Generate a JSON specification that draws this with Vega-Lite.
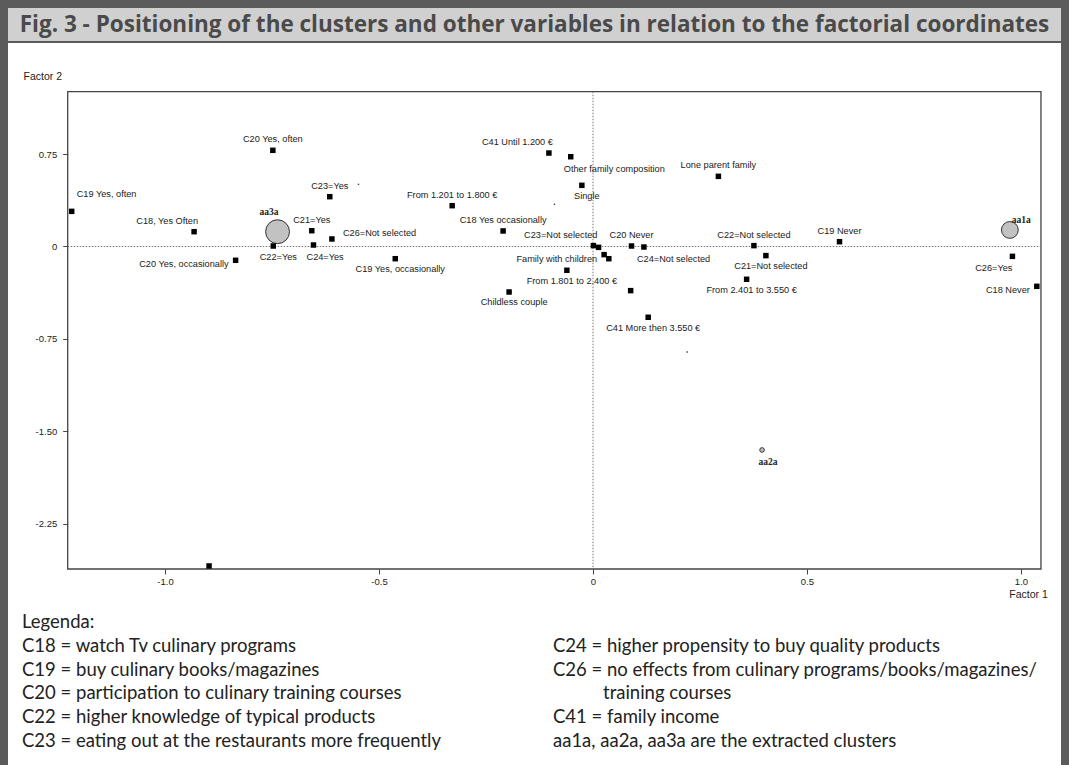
{
  "$schema": "https://vega.github.io/schema/vega-lite/v6.json",
  "background": "#5b5b5b",
  "padding": {"left": 8, "right": 8, "top": 8, "bottom": 0},
  "spacing": 2,
  "config": {"view": {"stroke": null}, "concat": {"spacing": 0}},
  "datasets": {
    "pts": [
      {"label": "C20 Yes, often", "x": -0.748, "y": 0.780, "pos": "above", "kind": "cat"},
      {"label": "C19 Yes, often", "x": -1.218, "y": 0.285, "pos": "aboveright", "kind": "cat"},
      {"label": "C18, Yes Often", "x": -0.932, "y": 0.120, "pos": "aboveleft", "kind": "cat"},
      {"label": "C20 Yes, occasionally", "x": -0.835, "y": -0.112, "pos": "left", "kind": "cat"},
      {"label": "C22=Yes", "x": -0.747, "y": 0.004, "pos": "below", "kind": "cat"},
      {"label": "C23=Yes", "x": -0.615, "y": 0.404, "pos": "above", "kind": "cat"},
      {"label": "C21=Yes", "x": -0.657, "y": 0.128, "pos": "above", "kind": "cat"},
      {"label": "C24=Yes", "x": -0.653, "y": 0.012, "pos": "belowright", "kind": "cat"},
      {"label": "C26=Not selected", "x": -0.610, "y": 0.061, "pos": "right", "kind": "cat"},
      {"label": "C19 Yes, occasionally", "x": -0.462, "y": -0.099, "pos": "below", "kind": "cat"},
      {"label": "From 1.201 to 1.800 €", "x": -0.329, "y": 0.331, "pos": "above", "kind": "cat"},
      {"label": "C18 Yes occasionally", "x": -0.210, "y": 0.126, "pos": "above", "kind": "cat"},
      {"label": "C41 Until 1.200 €", "x": -0.103, "y": 0.758, "pos": "aboveleft", "kind": "cat"},
      {"label": "Other family composition", "x": -0.052, "y": 0.728, "pos": "belowright", "kind": "cat"},
      {"label": "Single", "x": -0.026, "y": 0.496, "pos": "below", "kind": "cat"},
      {"label": "C23=Not selected", "x": 0.001, "y": 0.007, "pos": "aboveleft", "kind": "cat"},
      {"label": "", "x": 0.013, "y": -0.007, "pos": "none", "kind": "cat"},
      {"label": "Family with children", "x": 0.026, "y": -0.066, "pos": "left", "kind": "cat"},
      {"label": "", "x": 0.037, "y": -0.099, "pos": "none", "kind": "cat"},
      {"label": "C20 Never", "x": 0.090, "y": 0.004, "pos": "above", "kind": "cat"},
      {"label": "C24=Not selected", "x": 0.119, "y": -0.004, "pos": "belowright", "kind": "cat"},
      {"label": "From 1.801 to 2.400 €", "x": -0.061, "y": -0.193, "pos": "below", "kind": "cat"},
      {"label": "Childless couple", "x": -0.196, "y": -0.369, "pos": "below", "kind": "cat"},
      {"label": "", "x": 0.088, "y": -0.358, "pos": "none", "kind": "cat"},
      {"label": "C41 More then 3.550 €", "x": 0.129, "y": -0.574, "pos": "below", "kind": "cat"},
      {"label": "Lone parent family", "x": 0.293, "y": 0.569, "pos": "above", "kind": "cat"},
      {"label": "C22=Not selected", "x": 0.376, "y": 0.007, "pos": "above", "kind": "cat"},
      {"label": "C21=Not selected", "x": 0.404, "y": -0.074, "pos": "below", "kind": "cat"},
      {"label": "From 2.401 to 3.550 €", "x": 0.359, "y": -0.266, "pos": "below", "kind": "cat"},
      {"label": "C19 Never", "x": 0.576, "y": 0.039, "pos": "above", "kind": "cat"},
      {"label": "C26=Yes", "x": 0.980, "y": -0.080, "pos": "belowleft", "kind": "cat"},
      {"label": "C18 Never", "x": 1.037, "y": -0.323, "pos": "left", "kind": "cat"},
      {"label": "", "x": -0.897, "y": -2.591, "pos": "none", "kind": "cat"},
      {"label": "", "x": -0.548, "y": 0.504, "pos": "none", "kind": "minor"},
      {"label": "", "x": -0.090, "y": 0.342, "pos": "none", "kind": "minor"},
      {"label": "", "x": 0.220, "y": -0.856, "pos": "none", "kind": "minor"}
    ],
    "clusters": [
      {"label": "aa3a", "x": -0.737, "y": 0.120, "weight": 95, "pos": "ctl"},
      {"label": "aa1a", "x": 0.974, "y": 0.134, "weight": 47, "pos": "ctr"},
      {"label": "aa2a", "x": 0.395, "y": -1.650, "weight": 3.5, "pos": "cb"}
    ],
    "legend": [
      {"text": "Legenda:", "col": 0, "row": 0, "indent": 0},
      {"text": "C18 = watch Tv culinary programs", "col": 0, "row": 1, "indent": 0},
      {"text": "C19 = buy culinary books/magazines", "col": 0, "row": 2, "indent": 0},
      {"text": "C20 = participation to culinary training courses", "col": 0, "row": 3, "indent": 0},
      {"text": "C22 = higher knowledge of typical products", "col": 0, "row": 4, "indent": 0},
      {"text": "C23 = eating out at the restaurants more frequently", "col": 0, "row": 5, "indent": 0},
      {"text": "C24 = higher propensity to buy quality products", "col": 1, "row": 1, "indent": 0},
      {"text": "C26 = no effects from culinary programs/books/magazines/", "col": 1, "row": 2, "indent": 0},
      {"text": "training courses", "col": 1, "row": 3, "indent": 1},
      {"text": "C41 = family income", "col": 1, "row": 4, "indent": 0},
      {"text": "aa1a, aa2a, aa3a are the extracted clusters", "col": 1, "row": 5, "indent": 0}
    ],
    "one": [{"k": 1}]
  },
  "vconcat": [
    {
      "width": 1053,
      "height": 33,
      "view": {"fill": "#d0d0d0", "stroke": null},
      "data": {"values": [{"t": "Fig. 3 - Positioning of the clusters and other variables in relation to the factorial coordinates"}]},
      "mark": {"type": "text", "font": "Open Sans", "fontWeight": "bold", "fontSize": 22.5, "color": "#4a4a4a", "baseline": "middle", "align": "center"},
      "encoding": {"text": {"field": "t"}}
    },
    {
      "spacing": 0,
      "vconcat": [
        {
          "width": 1053,
          "height": 563,
          "view": {"fill": "white", "stroke": null},
          "layer": [
            {
              "data": {"name": "one"},
              "mark": {"type": "rect", "filled": false, "stroke": "#444", "strokeWidth": 1.3},
              "encoding": {
                "x": {"datum": -1.2273, "type": "quantitative", "scale": {"domain": [-1.3668, 1.0935], "nice": false, "zero": false}},
                "x2": {"datum": 1.0467},
                "y": {"datum": 1.2555, "type": "quantitative", "scale": {"domain": [-2.9157, 1.6504], "nice": false, "zero": false}},
                "y2": {"datum": -2.6156}
              }
            },
            {
              "data": {"name": "one"},
              "mark": {"type": "rule", "color": "#777", "strokeWidth": 1, "strokeDash": [1.5, 1.5]},
              "encoding": {
                "x": {"datum": 0, "type": "quantitative"},
                "y": {"datum": 1.2555, "type": "quantitative"},
                "y2": {"datum": -2.6156}
              }
            },
            {
              "data": {"name": "one"},
              "mark": {"type": "rule", "color": "#777", "strokeWidth": 1, "strokeDash": [1.5, 1.5]},
              "encoding": {
                "y": {"datum": 0, "type": "quantitative"},
                "x": {"datum": -1.2273, "type": "quantitative"},
                "x2": {"datum": 1.0467}
              }
            },
            {
              "data": {"name": "clusters"},
              "mark": {"type": "point", "shape": "circle", "filled": true, "fill": "#c2c2c2", "stroke": "#333", "strokeWidth": 1, "opacity": 1},
              "encoding": {
                "x": {"field": "x", "type": "quantitative"},
                "y": {"field": "y", "type": "quantitative"},
                "size": {"field": "weight", "type": "quantitative", "scale": {"domain": [0, 100], "range": [0, 600], "zero": true}, "legend": null}
              }
            },
            {
              "data": {"name": "pts"},
              "transform": [{"filter": "datum.kind == 'cat'"}],
              "mark": {"type": "point", "shape": "square", "filled": true, "color": "#000", "size": 30, "opacity": 1},
              "encoding": {
                "x": {
                  "field": "x", "type": "quantitative",
                  "axis": {
                    "values": [-1, -0.5, 0, 0.5, 1],
                    "labelExpr": "datum.value == 0 ? '0' : (datum.value < 0 ? '-' : '') + format(abs(datum.value), '.1f')",
                    "offset": -37, "domain": false, "grid": false, "zindex": 2,
                    "tickSize": 5, "tickColor": "#444", "tickWidth": 1,
                    "labelFont": "Liberation Sans", "labelFontSize": 9.5, "labelColor": "#222", "labelPadding": 2,
                    "labelFlush": false, "labelOverlap": false,
                    "title": "Factor 1", "titleFont": "Liberation Sans", "titleFontSize": 10.5, "titleFontWeight": "normal", "titleColor": "#222",
                    "titleX": 1020, "titleY": 25, "titleAlign": "center", "titleBaseline": "middle"
                  }
                },
                "y": {
                  "field": "y", "type": "quantitative",
                  "axis": {
                    "values": [0.75, 0, -0.75, -1.5, -2.25],
                    "labelExpr": "datum.value == 0 ? '0' : (datum.value < 0 ? '-' : '') + format(abs(datum.value), '.2f')",
                    "offset": -59.7, "domain": false, "grid": false, "zindex": 2,
                    "tickSize": 5, "tickColor": "#444", "tickWidth": 1,
                    "labelFont": "Liberation Sans", "labelFontSize": 9.5, "labelColor": "#222", "labelPadding": 6,
                    "labelFlush": false, "labelOverlap": false,
                    "title": "Factor 2", "titleFont": "Liberation Sans", "titleFontSize": 10.5, "titleFontWeight": "normal", "titleColor": "#222",
                    "titleAngle": 0, "titleX": -44.7, "titleY": 33, "titleAlign": "left", "titleBaseline": "middle"
                  }
                }
              }
            },
            {
              "data": {"name": "pts"},
              "transform": [{"filter": "datum.kind == 'minor'"}],
              "mark": {"type": "point", "shape": "square", "filled": true, "color": "#444", "size": 2, "opacity": 1},
              "encoding": {"x": {"field": "x", "type": "quantitative"}, "y": {"field": "y", "type": "quantitative"}}
            },
            {
              "data": {"name": "pts"},
              "transform": [{"filter": "datum.pos == 'above'"}],
              "mark": {"type": "text", "align": "center", "baseline": "middle", "dx": 0, "dy": -11, "font": "Liberation Sans", "fontSize": 9.2, "color": "#1a1a1a"},
              "encoding": {"x": {"field": "x", "type": "quantitative"}, "y": {"field": "y", "type": "quantitative"}, "text": {"field": "label"}}
            },
            {
              "data": {"name": "pts"},
              "transform": [{"filter": "datum.pos == 'below'"}],
              "mark": {"type": "text", "align": "center", "baseline": "middle", "dx": 5, "dy": 10.5, "font": "Liberation Sans", "fontSize": 9.2, "color": "#1a1a1a"},
              "encoding": {"x": {"field": "x", "type": "quantitative"}, "y": {"field": "y", "type": "quantitative"}, "text": {"field": "label"}}
            },
            {
              "data": {"name": "pts"},
              "transform": [{"filter": "datum.pos == 'left'"}],
              "mark": {"type": "text", "align": "right", "baseline": "middle", "dx": -7, "dy": 4, "font": "Liberation Sans", "fontSize": 9.2, "color": "#1a1a1a"},
              "encoding": {"x": {"field": "x", "type": "quantitative"}, "y": {"field": "y", "type": "quantitative"}, "text": {"field": "label"}}
            },
            {
              "data": {"name": "pts"},
              "transform": [{"filter": "datum.pos == 'right'"}],
              "mark": {"type": "text", "align": "left", "baseline": "middle", "dx": 11, "dy": -6, "font": "Liberation Sans", "fontSize": 9.2, "color": "#1a1a1a"},
              "encoding": {"x": {"field": "x", "type": "quantitative"}, "y": {"field": "y", "type": "quantitative"}, "text": {"field": "label"}}
            },
            {
              "data": {"name": "pts"},
              "transform": [{"filter": "datum.pos == 'aboveleft'"}],
              "mark": {"type": "text", "align": "right", "baseline": "middle", "dx": 4, "dy": -11, "font": "Liberation Sans", "fontSize": 9.2, "color": "#1a1a1a"},
              "encoding": {"x": {"field": "x", "type": "quantitative"}, "y": {"field": "y", "type": "quantitative"}, "text": {"field": "label"}}
            },
            {
              "data": {"name": "pts"},
              "transform": [{"filter": "datum.pos == 'aboveright'"}],
              "mark": {"type": "text", "align": "left", "baseline": "middle", "dx": 5, "dy": -17, "font": "Liberation Sans", "fontSize": 9.2, "color": "#1a1a1a"},
              "encoding": {"x": {"field": "x", "type": "quantitative"}, "y": {"field": "y", "type": "quantitative"}, "text": {"field": "label"}}
            },
            {
              "data": {"name": "pts"},
              "transform": [{"filter": "datum.pos == 'belowright'"}],
              "mark": {"type": "text", "align": "left", "baseline": "middle", "dx": -7, "dy": 12, "font": "Liberation Sans", "fontSize": 9.2, "color": "#1a1a1a"},
              "encoding": {"x": {"field": "x", "type": "quantitative"}, "y": {"field": "y", "type": "quantitative"}, "text": {"field": "label"}}
            },
            {
              "data": {"name": "pts"},
              "transform": [{"filter": "datum.pos == 'belowleft'"}],
              "mark": {"type": "text", "align": "right", "baseline": "middle", "dx": 0, "dy": 12, "font": "Liberation Sans", "fontSize": 9.2, "color": "#1a1a1a"},
              "encoding": {"x": {"field": "x", "type": "quantitative"}, "y": {"field": "y", "type": "quantitative"}, "text": {"field": "label"}}
            },
            {
              "data": {"name": "clusters"},
              "transform": [{"filter": "datum.pos == 'ctl'"}],
              "mark": {"type": "text", "align": "right", "baseline": "middle", "dx": 1, "dy": -20, "font": "Liberation Serif", "fontWeight": "bold", "fontSize": 9.5, "color": "#222"},
              "encoding": {"x": {"field": "x", "type": "quantitative"}, "y": {"field": "y", "type": "quantitative"}, "text": {"field": "label"}}
            },
            {
              "data": {"name": "clusters"},
              "transform": [{"filter": "datum.pos == 'ctr'"}],
              "mark": {"type": "text", "align": "left", "baseline": "middle", "dx": 2, "dy": -10, "font": "Liberation Serif", "fontWeight": "bold", "fontSize": 9.5, "color": "#222"},
              "encoding": {"x": {"field": "x", "type": "quantitative"}, "y": {"field": "y", "type": "quantitative"}, "text": {"field": "label"}}
            },
            {
              "data": {"name": "clusters"},
              "transform": [{"filter": "datum.pos == 'cb'"}],
              "mark": {"type": "text", "align": "center", "baseline": "middle", "dx": 6, "dy": 12, "font": "Liberation Serif", "fontWeight": "bold", "fontSize": 9.5, "color": "#222"},
              "encoding": {"x": {"field": "x", "type": "quantitative"}, "y": {"field": "y", "type": "quantitative"}, "text": {"field": "label"}}
            }
          ]
        },
        {
          "width": 1053,
          "height": 159,
          "view": {"fill": "white", "stroke": null},
          "data": {"name": "legend"},
          "encoding": {
            "x": {"field": "col", "type": "quantitative", "scale": {"domain": [-0.02637, 1.9567], "nice": false, "zero": false}, "axis": null},
            "y": {"field": "row", "type": "quantitative", "scale": {"domain": [-0.672, 6.009], "nice": false, "zero": false, "reverse": true}, "axis": null},
            "text": {"field": "text"}
          },
          "layer": [
            {
              "transform": [{"filter": "datum.indent == 0"}],
              "mark": {"type": "text", "align": "left", "baseline": "middle", "font": "Lato", "fontSize": 18.5, "color": "#222"}
            },
            {
              "transform": [{"filter": "datum.indent == 1"}],
              "mark": {"type": "text", "align": "left", "baseline": "middle", "dx": 50, "font": "Lato", "fontSize": 18.5, "color": "#222"}
            }
          ]
        }
      ]
    }
  ]
}
